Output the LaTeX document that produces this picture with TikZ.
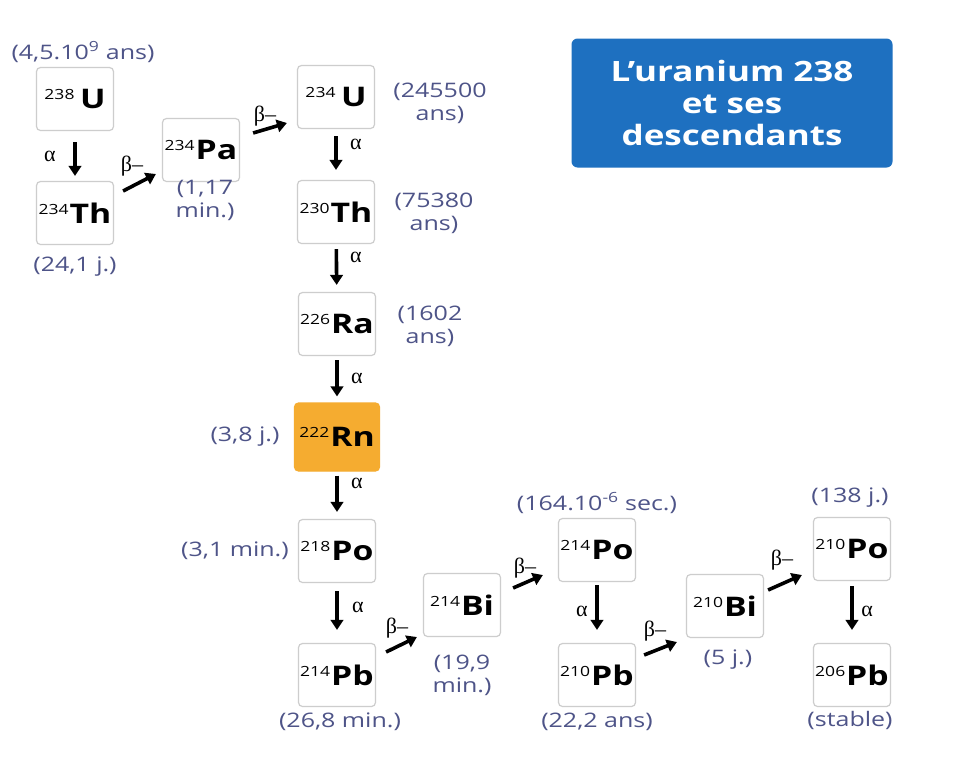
\documentclass[tikz,border=0pt]{standalone}
\usepackage{fontspec}
\setmainfont[FakeStretch=1.25]{Open Sans}
\newfontfamily\grk{Liberation Serif}
\usetikzlibrary{arrows.meta,calc}
\definecolor{lab}{RGB}{78,84,136}
\definecolor{titleblue}{RGB}{30,112,192}
\definecolor{rnorange}{RGB}{245,172,48}
\definecolor{boxgray}{RGB}{205,205,205}
\newcommand{\isot}[2]{\raisebox{9pt}{\fontsize{14}{14}\selectfont #1}\kern1pt{\fontsize{27}{27}\selectfont\bfseries #2}}
\begin{document}
\begin{tikzpicture}[x=1pt,y=-1pt,
  iso/.style={draw=boxgray,line width=1.2pt,rounded corners=4pt,minimum width=77pt,minimum height=63pt,inner sep=0pt,fill=white},
  lbl/.style={text=lab,font=\fontsize{20}{23}\selectfont,align=center,inner sep=0pt},
  arr/.style={line width=3.6pt,-{Triangle[length=10pt,width=12.5pt]},shorten <=5pt,shorten >=7pt},
  darr/.style={line width=3.6pt,-{Triangle[length=10pt,width=12.5pt]}},
  gk/.style={font=\grk\fontsize{22}{22}\selectfont,inner sep=0pt}]
\fill[white] (0,0) rectangle (965,763);
% title
\node[fill=titleblue,rounded corners=6pt,minimum width=321pt,minimum height=129pt,text=white,align=center,font=\fontsize{28}{32}\selectfont\bfseries] (title) at (732,103) {L’uranium 238\\et ses\\descendants};
% isotopes
\node[iso] (u238) at (75,99) {\isot{238}{\,U}};
\node[iso] (th234) at (75,213) {\isot{234}{Th}};
\node[iso] (pa234) at (201,150) {\isot{234}{Pa}};
\node[iso] (u234) at (336,97) {\isot{234}{\,U}};
\node[iso] (th230) at (336,212) {\isot{230}{Th}};
\node[iso] (ra226) at (337,324) {\isot{226}{Ra}};
\node[iso,fill=rnorange,draw=rnorange,minimum width=85pt,minimum height=68pt] (rn222) at (337,437) {\isot{222}{Rn}};
\node[iso] (po218) at (337,551) {\isot{218}{Po}};
\node[iso] (pb214) at (337,675) {\isot{214}{Pb}};
\node[iso] (bi214) at (462,605) {\isot{214}{Bi}};
\node[iso] (po214) at (597,550) {\isot{214}{Po}};
\node[iso] (pb210) at (597,675) {\isot{210}{Pb}};
\node[iso] (bi210) at (725,606) {\isot{210}{Bi}};
\node[iso] (po210) at (852,549) {\isot{210}{Po}};
\node[iso] (pb206) at (852,675) {\isot{206}{Pb}};
% half-lives
\node[lbl] (l1) at (83,52) {(4,5.10\textsuperscript{9} ans)};
\node[lbl] (l2) at (75,267) {(24,1 j.)};
\node[lbl] (l3) at (205,200) {(1,17\\min.)};
\node[lbl] (l4) at (440,103) {(245500\\ans)};
\node[lbl] (l5) at (434,213) {(75380\\ans)};
\node[lbl] (l6) at (430,326) {(1602\\ans)};
\node[lbl] (l7) at (245,437) {(3,8 j.)};
\node[lbl] (l8) at (235,551) {(3,1 min.)};
\node[lbl] (l9) at (340,722) {(26,8 min.)};
\node[lbl] (l10) at (462,675) {(19,9\\min.)};
\node[lbl] (l11) at (597,503) {(164.10\textsuperscript{-6} sec.)};
\node[lbl] (l12) at (597,722) {(22,2 ans)};
\node[lbl] (l13) at (850,498) {(138 j.)};
\node[lbl] (l14) at (728,660) {(5 j.)};
\node[lbl] (l15) at (850,720) {(stable)};
% alpha decays
\draw[arr,shorten <=11pt,shorten >=5pt] (u238) -- (th234);
\draw[arr,shorten <=7pt,shorten >=10pt] (u234) -- (th230);
\draw[arr] (th230) -- (ra226);
\draw[arr,shorten <=4pt,shorten >=6pt] (ra226) -- (rn222);
\draw[arr,shorten <=4pt,shorten >=7pt] (rn222) -- (po218);
\draw[arr,shorten <=8pt,shorten >=13pt] (po218) -- (pb214);
\draw[arr,shorten <=3pt,shorten >=13pt] (po214) -- (pb210);
\draw[arr,shorten <=5pt,shorten >=13pt] (po210) -- (pb206);
\node[gk] (a1) at (50,156) {α};
\node[gk] (a2) at (356,144) {α};
\node[gk] (a3) at (356,257) {α};
\node[gk] (a4) at (357,378) {α};
\node[gk] (a5) at (357,483) {α};
\node[gk] (a6) at (358,607) {α};
\node[gk] (a7) at (582,611) {α};
\node[gk] (a8) at (867,611) {α};
% beta decays
\draw[darr] ([xshift=9pt,yshift=22pt]th234.east) -- ([xshift=-6pt,yshift=-24pt]pa234.west);
\draw[darr] ([xshift=13pt,yshift=17pt]pa234.east) -- ([xshift=-10pt,yshift=-26pt]u234.west);
\draw[darr] ([xshift=10pt,yshift=23pt]pb214.east) -- ([xshift=-6pt,yshift=-32pt]bi214.west);
\draw[darr] ([xshift=12pt,yshift=17pt]bi214.east) -- ([xshift=-15pt,yshift=-25pt]po214.west);
\draw[darr] ([xshift=8pt,yshift=20pt]pb210.east) -- ([xshift=-9pt,yshift=-36pt]bi210.west);
\draw[darr] ([xshift=4pt,yshift=16pt]bi210.east) -- ([xshift=-11pt,yshift=-26pt]po210.west);
\node[gk] (b1) at (132,166) {β–};
\node[gk] (b2) at (265,116) {β–};
\node[gk] (b3) at (397,628) {β–};
\node[gk] (b4) at (525,568) {β–};
\node[gk] (b5) at (655,631) {β–};
\node[gk] (b6) at (782,560) {β–};
\end{tikzpicture}
\end{document}
